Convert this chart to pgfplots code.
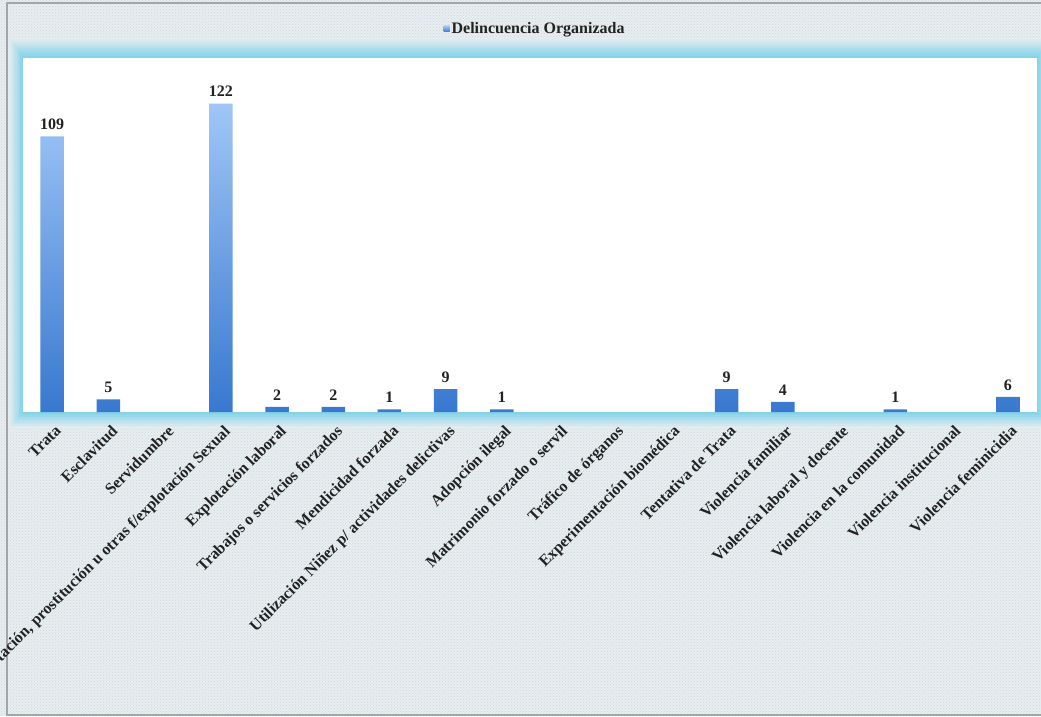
\documentclass[border=0pt]{standalone}
\usepackage{pgfplots}
\pgfplotsset{compat=1.18}
\usepackage{fontspec}
\setmainfont{Liberation Serif}
\usetikzlibrary{patterns}

\definecolor{bgfill}{HTML}{E6EEF1}
\definecolor{framegray}{HTML}{A3A6A8}
\definecolor{glowin}{HTML}{86D3E8}
\definecolor{bartop}{HTML}{A0C6F7}
\definecolor{barbot}{HTML}{3878CF}
\definecolor{labelcol}{HTML}{222222}

\begin{document}
\begin{tikzpicture}
\useasboundingbox (0pt,0pt) rectangle (1041pt,716pt);
\clip (0pt,0pt) rectangle (1041pt,716pt);
% textured backdrop
\fill[bgfill] (0pt,0pt) rectangle (1041pt,716pt);
\fill[pattern=crosshatch dots, pattern color=gray!32] (0pt,0pt) rectangle (1041pt,716pt);
% outer frame
\draw[framegray, line width=2.5pt] (7pt,0pt) -- (7pt,713pt) -- (1045pt,713pt);
\draw[framegray, line width=2pt] (7pt,1.5pt) -- (1045pt,1.5pt);
% soft cyan glow around the plot area, stepping from faint to strong
\foreach \k in {0,...,9}{
  \pgfmathsetmacro{\t}{1-\k/10}
  \pgfmathsetmacro{\mix}{12+88*\k/9}
  \pgfmathsetmacro{\xa}{23-13*\t}
  \pgfmathsetmacro{\ya}{304-15*\t}
  \pgfmathsetmacro{\xb}{1037+13*\t}
  \pgfmathsetmacro{\yb}{658+19*\t}
  \fill[glowin!\mix!bgfill] (\xa pt,\ya pt) rectangle (\xb pt,\yb pt);
}

\begin{axis}[
  at={(23pt,304pt)}, anchor=south west,
  width=1014pt, height=354pt, scale only axis,
  axis background/.style={fill=white},
  xmin=-0.52, xmax=17.52, ymin=0, ymax=140,
  ybar, bar width=23.5pt,
  axis line style={draw=none},
  tick style={draw=none},
  ytick=\empty,
  xtick={0,...,17},
  xticklabels={
    Trata,
    Esclavitud, Servidumbre,
    {Explotación, prostitución u otras f/explotación Sexual},
    Explotación laboral, Trabajos o servicios forzados,
    Mendicidad forzada, Utilización Niñez p/ actividades delictivas,
    Adopción ilegal, Matrimonio forzado o servil, Tráfico de órganos,
    Experimentación biomédica, Tentativa de Trata, Violencia familiar,
    Violencia laboral y docente, Violencia en la comunidad,
    Violencia institucional, Violencia feminicidia},
  xticklabel style={rotate=45, anchor=north east, inner sep=1pt,
    xshift=-3pt, yshift=-6pt,
    font=\fontsize{16}{19}\selectfont\bfseries, text=labelcol},
  /pgf/number format/assume math mode=true,
  legend style={at={(0.505,1.082)}, anchor=center, draw=none, fill=none,
    font=\fontsize{16}{19}\selectfont\bfseries, text=labelcol},
  legend image code/.code={\fill[barbot!70] (-2pt,-3pt) rectangle (4pt,3pt);},
  clip=false,
]
\addplot[draw=none, top color=bartop, bottom color=barbot,
  nodes near coords,
  nodes near coords style={font=\fontsize{16}{19}\selectfont\bfseries,
    text=labelcol, yshift=3pt}]
  coordinates {(0,109) (1,5) (3,122) (4,2) (5,2) (6,1) (7,9) (8,1)
               (12,9) (13,4) (15,1) (17,6)};
\addlegendentry{Delincuencia Organizada}
\end{axis}
\end{tikzpicture}
\end{document}
